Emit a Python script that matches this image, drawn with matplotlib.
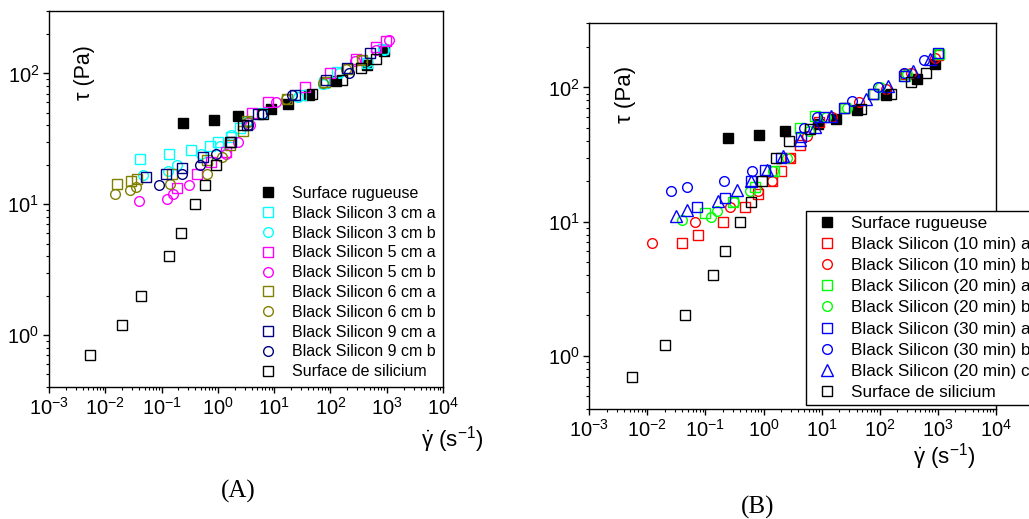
import matplotlib.pyplot as plt
from matplotlib.ticker import LogLocator, NullFormatter

plt.rcParams['font.family'] = ['Liberation Sans', 'DejaVu Sans']
plt.rcParams['mathtext.fontset'] = 'custom'
plt.rcParams['mathtext.rm'] = 'Liberation Sans'
plt.rcParams['mathtext.it'] = 'Liberation Sans:italic'
plt.rcParams['mathtext.default'] = 'regular'
plt.rcParams['axes.unicode_minus'] = False

# ---- data shared by both panels ----
rug_x = [0.245, 0.84, 2.3, 8.7, 17.4, 41.5, 128, 440, 900]
rug_y = [42, 44, 47, 53, 58, 68, 88, 116, 149]
sil_x = [0.0054, 0.02, 0.044, 0.135, 0.22, 0.4, 0.6, 0.93, 1.64, 2.8, 6.3, 48, 158, 344, 636]
sil_y = [0.7, 1.2, 2, 4, 6, 10, 14, 20, 30, 40, 49, 69, 89, 110, 129]

# ---- panel A ----
a3_x = [0.041, 0.135, 0.33, 0.72, 1.0, 1.7, 2.46, 6, 30, 77, 130, 440, 870]
a3_y = [22, 24, 25.8, 27.8, 29.8, 32.6, 38, 50, 68, 85, 103, 120, 155]
b3_x = [0.047, 0.128, 0.19, 0.51, 1.09, 1.7, 3.25, 27, 74, 140, 450, 900]
b3_y = [16.6, 18, 19.8, 24, 27.8, 33.6, 43.6, 65.6, 83, 100, 122, 152]
a5_x = [0.185, 0.42, 0.75, 1.4, 4.1, 7.9, 36, 100, 285, 645, 955]
a5_y = [13.2, 17.1, 21, 25, 49.5, 60, 79, 100, 129, 160, 177]
b5_x = [0.04, 0.126, 0.16, 0.31, 1.39, 2.24, 3.8, 11, 272, 635, 1090]
b5_y = [10.5, 11, 12, 14.1, 24, 29.8, 40, 60, 125, 151, 180]
a6_x = [0.0163, 0.029, 0.036, 0.155, 0.63, 1.64, 2.8, 3.25, 16.6, 80, 209, 360]
a6_y = [14.2, 15, 15.7, 17.1, 21.6, 28.5, 36, 43.6, 64, 86.4, 108, 126]
b6_x = [0.0149, 0.0274, 0.035, 0.14, 0.63, 1.2, 3.47, 16, 74, 190, 360]
b6_y = [12, 12.8, 13.5, 14.2, 17.1, 23, 42.4, 64, 84, 108, 126]
a9_x = [0.052, 0.118, 0.228, 0.55, 1.7, 3.25, 5.2, 23.4, 83, 200, 500]
a9_y = [16, 16.9, 19, 23, 29.8, 40, 49, 68.8, 89.5, 110, 142]
b9_x = [0.09, 0.23, 0.475, 0.925, 3.4, 6, 21, 210]
b9_y = [14, 16.9, 20, 24, 40, 49, 68.4, 100]

# ---- panel B ----
r10a_x = [0.039, 0.075, 0.198, 0.48, 0.79, 1.38, 2.0, 2.87, 4.26, 9, 25, 80, 280, 1000]
r10a_y = [6.9, 7.9, 10, 12.9, 16.1, 19.9, 23.9, 29.7, 37.2, 55, 70, 90, 125, 175]
r10b_x = [0.0119, 0.066, 0.26, 0.8, 1.4, 2.9, 5.56, 15, 45, 130, 350, 900]
r10b_y = [6.9, 10, 12.9, 17, 20, 30, 43.5, 60, 78, 98, 128, 165]
g20a_x = [0.1, 0.3, 0.7, 1.5, 4.3, 7.7, 25, 80, 270, 1050]
g20a_y = [11.5, 14, 18, 24, 50, 61, 70, 90, 121, 178]
g20b_x = [0.039, 0.124, 0.16, 0.314, 0.59, 1.44, 2.5, 6, 12, 27, 100, 300, 1050]
g20b_y = [10.3, 10.9, 12, 14.1, 17, 24, 30, 47, 60, 70, 100, 125, 178]
b30a_x = [0.071, 0.218, 0.6, 1.07, 2.0, 4.5, 11, 24.6, 78, 268, 1030]
b30a_y = [12.9, 15, 20.2, 24.3, 30, 43, 60, 69.8, 90, 121, 179]
b30b_x = [0.0255, 0.049, 0.211, 0.63, 5, 8.3, 34, 93, 268, 590]
b30b_y = [16.9, 18, 19.9, 24, 50, 60, 79.5, 100, 129, 160]
t20c_x = [0.031, 0.048, 0.167, 0.345, 0.6, 1.14, 2.14, 4.26, 7.7, 14.6, 57.7, 141, 380, 738]
t20c_y = [11, 12.1, 14.3, 17.2, 20, 24.3, 30.9, 40.5, 51, 61, 82, 102, 133, 164]

series_a = [
    (rug_x, rug_y, 's', 'black', True, 'Surface rugueuse'),
    (a3_x, a3_y, 's', '#00FFFF', False, 'Black Silicon 3 cm a'),
    (b3_x, b3_y, 'o', '#00FFFF', False, 'Black Silicon 3 cm b'),
    (a5_x, a5_y, 's', '#FF00FF', False, 'Black Silicon 5 cm a'),
    (b5_x, b5_y, 'o', '#FF00FF', False, 'Black Silicon 5 cm b'),
    (a6_x, a6_y, 's', '#808000', False, 'Black Silicon 6 cm a'),
    (b6_x, b6_y, 'o', '#808000', False, 'Black Silicon 6 cm b'),
    (a9_x, a9_y, 's', '#000080', False, 'Black Silicon 9 cm a'),
    (b9_x, b9_y, 'o', '#000080', False, 'Black Silicon 9 cm b'),
    (sil_x, sil_y, 's', 'black', False, 'Surface de silicium'),
]
series_b = [
    (rug_x, rug_y, 's', 'black', True, 'Surface rugueuse'),
    (r10a_x, r10a_y, 's', '#FF0000', False, 'Black Silicon (10 min) a'),
    (r10b_x, r10b_y, 'o', '#FF0000', False, 'Black Silicon (10 min) b'),
    (g20a_x, g20a_y, 's', '#00FF00', False, 'Black Silicon (20 min) a'),
    (g20b_x, g20b_y, 'o', '#00FF00', False, 'Black Silicon (20 min) b'),
    (b30a_x, b30a_y, 's', '#0000FF', False, 'Black Silicon (30 min) a'),
    (b30b_x, b30b_y, 'o', '#0000FF', False, 'Black Silicon (30 min) b'),
    (t20c_x, t20c_y, '^', '#0000FF', False, 'Black Silicon (20 min) c'),
    (sil_x, sil_y, 's', 'black', False, 'Surface de silicium'),
]


def draw_panel(ax, series):
    for x, y, m, c, filled, lab in series:
        ms = 8.5 if m == '^' else 7
        ax.plot(x, y, linestyle='none', marker=m, markersize=ms,
                markeredgecolor=c, markerfacecolor=c if filled else 'none',
                markeredgewidth=1.0, label=lab)
    ax.set_xscale('log')
    ax.set_yscale('log')
    ax.set_xlim(1e-3, 1e4)
    ax.set_ylim(0.4, 300)
    ax.xaxis.set_major_locator(LogLocator(base=10, numticks=20))
    ax.xaxis.set_minor_locator(LogLocator(base=10, subs=range(2, 10), numticks=20))
    ax.xaxis.set_minor_formatter(NullFormatter())
    ax.yaxis.set_minor_formatter(NullFormatter())
    ax.tick_params(which='major', direction='out', length=4, width=1, labelsize=14.5, pad=3)
    ax.tick_params(which='minor', direction='out', length=2.5, width=0.8)
    for s in ax.spines.values():
        s.set_linewidth(1.0)


fig = plt.figure(figsize=(10.29, 5.19), dpi=100)

axA = fig.add_axes([0.0476, 0.2543, 0.3829, 0.7245])
draw_panel(axA, series_a)
axA.text(0.09, 0.835, 'τ (Pa)', rotation=90, fontsize=15.5, transform=axA.transAxes,
         ha='center', va='center')
fig.text(421 / 1029, 1 - 440 / 519, r'$\dot{\gamma}\ (s^{-1})$', fontsize=16, ha='left', va='center')
fig.text(238 / 1029, 1 - 491 / 519, '(A)', fontsize=18, family='Liberation Serif',
         ha='center', va='center')
axA.legend(loc='upper left', bbox_to_anchor=(259.8 / 1029, 1 - 186 / 519),
           bbox_transform=fig.transFigure, frameon=False, fontsize=11.5,
           numpoints=1, handlelength=1.0, handletextpad=1.0, labelspacing=0.3,
           borderpad=0, borderaxespad=0)

axB = fig.add_axes([0.5727, 0.2114, 0.3950, 0.7437])
draw_panel(axB, series_b)
axB.text(0.088, 0.815, 'τ (Pa)', rotation=90, fontsize=16, transform=axB.transAxes,
         ha='center', va='center')
fig.text(913 / 1029, 1 - 457 / 519, r'$\dot{\gamma}\ (s^{-1})$', fontsize=16, ha='left', va='center')
fig.text(757.7 / 1029, 1 - 507 / 519, '(B)', fontsize=18, family='Liberation Serif',
         ha='center', va='center')
legB = axB.legend(loc='upper left', bbox_to_anchor=(806 / 1029, 1 - 210.7 / 519),
                  bbox_transform=fig.transFigure, frameon=True, fancybox=False,
                  edgecolor='black', framealpha=1, fontsize=12.3, numpoints=1,
                  handlelength=1.85, handletextpad=0.5, labelspacing=0.36,
                  borderpad=0.3, borderaxespad=0)
legB.get_frame().set_linewidth(1.0)

fig.savefig('out.png', dpi=100)
